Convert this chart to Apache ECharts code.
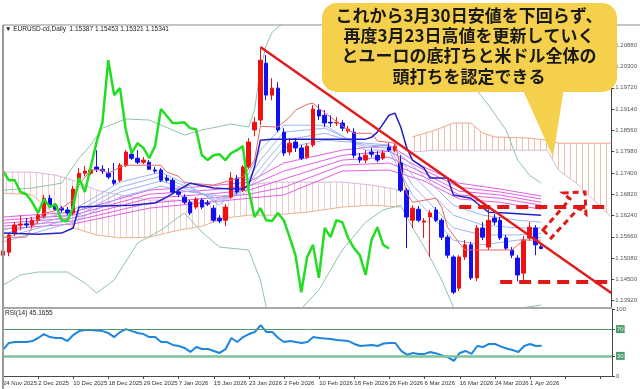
<!DOCTYPE html>
<html><head><meta charset="utf-8">
<script src="https://cdn.jsdelivr.net/npm/echarts@6/dist/echarts.min.js"></script>
<style>html,body{margin:0;padding:0;background:#fff}#c{width:640px;height:389px}</style>
</head><body><div id="c"></div>
<script>
const dates = ['24 Nov 2025','25 Nov 2025','26 Nov 2025','27 Nov 2025','28 Nov 2025',
'1 Dec 2025','2 Dec 2025','3 Dec 2025','4 Dec 2025','5 Dec 2025','8 Dec 2025','9 Dec 2025','10 Dec 2025','11 Dec 2025','12 Dec 2025',
'15 Dec 2025','16 Dec 2025','17 Dec 2025','18 Dec 2025','19 Dec 2025','22 Dec 2025','23 Dec 2025','24 Dec 2025','26 Dec 2025',
'29 Dec 2025','30 Dec 2025','31 Dec 2025','2 Jan 2026','5 Jan 2026','6 Jan 2026','7 Jan 2026','8 Jan 2026','9 Jan 2026',
'12 Jan 2026','13 Jan 2026','14 Jan 2026','15 Jan 2026','16 Jan 2026','19 Jan 2026','20 Jan 2026','21 Jan 2026','22 Jan 2026','23 Jan 2026',
'26 Jan 2026','27 Jan 2026','28 Jan 2026','29 Jan 2026','30 Jan 2026','2 Feb 2026','3 Feb 2026','4 Feb 2026','5 Feb 2026','6 Feb 2026',
'9 Feb 2026','10 Feb 2026','11 Feb 2026','12 Feb 2026','13 Feb 2026','16 Feb 2026','17 Feb 2026','18 Feb 2026','19 Feb 2026','20 Feb 2026',
'23 Feb 2026','24 Feb 2026','25 Feb 2026','26 Feb 2026','27 Feb 2026','2 Mar 2026','3 Mar 2026','4 Mar 2026','5 Mar 2026','6 Mar 2026',
'9 Mar 2026','10 Mar 2026','11 Mar 2026','12 Mar 2026','13 Mar 2026','16 Mar 2026','17 Mar 2026','18 Mar 2026','19 Mar 2026','20 Mar 2026',
'23 Mar 2026','24 Mar 2026','25 Mar 2026','26 Mar 2026','27 Mar 2026','30 Mar 2026','31 Mar 2026','1 Apr 2026','2 Apr 2026','3 Apr 2026'];
const futureSlots = ['','','','','','','','','','','',''];

const opens = [1.1516,1.1524,1.1576,1.1598,1.1601,1.1598,1.1611,1.1622,1.1671,1.1650,
1.1644,1.1639,1.1631,1.1715,1.1739,1.1739,1.1756,1.1750,1.1739,1.1720,
1.1720,1.1761,1.1791,1.1780,1.1769,1.1769,1.1748,1.1748,1.1726,1.1720,
1.1688,1.1674,1.1660,1.1647,1.1666,1.1658,1.1644,1.1617,1.1611,1.1674,
1.1726,1.1693,1.1756,1.1857,1.1884,1.2039,1.1952,1.1971,1.1851,1.1797,
1.1824,1.1808,1.1783,1.1816,1.1911,1.1897,1.1878,1.1876,1.1876,1.1854,
1.1851,1.1783,1.1775,1.1797,1.1788,1.1780,1.1810,1.1802,1.1767,1.1693,
1.1611,1.1641,1.1606,1.1620,1.1639,1.1611,1.1565,1.1511,1.1426,1.1511,
1.1544,1.1454,1.1590,1.1538,1.1617,1.1611,1.1563,1.1530,1.1508,1.1467,
1.1563,1.1590,1.15387];
const closes = [1.1527,1.1571,1.1598,1.1601,1.1598,1.1611,1.1625,1.1671,1.1652,1.1641,
1.1639,1.1631,1.1696,1.1739,1.1745,1.1748,1.1750,1.1745,1.1729,1.1712,
1.1761,1.1797,1.1780,1.1769,1.1775,1.1750,1.1745,1.1720,1.1720,1.1688,
1.1682,1.1660,1.1631,1.1669,1.1647,1.1655,1.1611,1.1609,1.1647,1.1726,
1.1688,1.1756,1.1824,1.1878,1.2047,1.1952,1.1971,1.1857,1.1794,1.1821,
1.1808,1.1780,1.1813,1.1914,1.1895,1.1876,1.1876,1.1878,1.1862,1.1859,
1.1788,1.1775,1.1788,1.1791,1.1775,1.1794,1.1802,1.1813,1.1693,1.1620,
1.1644,1.1611,1.1609,1.1631,1.1611,1.1565,1.1516,1.1415,1.1511,1.1544,
1.1454,1.1590,1.1565,1.1611,1.1606,1.1563,1.1535,1.1516,1.1462,1.1557,
1.1592,1.1544,1.15341];
const lows = [1.1508,1.1513,1.1568,1.1584,1.1590,1.1590,1.1603,1.1617,1.1644,1.1636,
1.1633,1.1625,1.1625,1.1707,1.1731,1.1734,1.1742,1.1737,1.1723,1.1707,
1.1715,1.1756,1.1775,1.1764,1.1764,1.1748,1.1739,1.1715,1.1715,1.1682,
1.1674,1.1655,1.1625,1.1641,1.1641,1.1650,1.1606,1.1603,1.1595,1.1669,
1.1682,1.1688,1.1750,1.1840,1.1870,1.1938,1.1938,1.1851,1.1786,1.1788,
1.1797,1.1775,1.1778,1.1810,1.1884,1.1865,1.1865,1.1868,1.1854,1.1848,
1.1780,1.1767,1.1767,1.1783,1.1769,1.1775,1.1797,1.1797,1.1688,1.1535,
1.1590,1.1606,1.1563,1.1511,1.1606,1.1557,1.1508,1.1410,1.1418,1.1503,
1.1448,1.1445,1.1557,1.1530,1.1598,1.1557,1.1530,1.1508,1.1445,1.1448,
1.1555,1.1516,1.15321];
const highs = [1.1535,1.1576,1.1606,1.1625,1.1617,1.1620,1.1633,1.1680,1.1680,1.1658,
1.1650,1.1647,1.1704,1.1753,1.1759,1.1761,1.1802,1.1761,1.1753,1.1767,
1.1767,1.1802,1.1802,1.1802,1.1783,1.1775,1.1756,1.1753,1.1734,1.1726,
1.1693,1.1682,1.1666,1.1674,1.1671,1.1666,1.1652,1.1625,1.1655,1.1742,
1.1734,1.1761,1.1835,1.1892,1.2080,1.2061,1.1998,1.1987,1.1862,1.1835,
1.1835,1.1816,1.1821,1.1925,1.1927,1.1911,1.1897,1.1892,1.1884,1.1868,
1.1862,1.1794,1.1802,1.1808,1.1799,1.1802,1.1821,1.1821,1.1788,1.1699,
1.1652,1.1650,1.1617,1.1639,1.1647,1.1617,1.1571,1.1516,1.1516,1.1557,
1.1552,1.1598,1.1606,1.1647,1.1628,1.1620,1.1571,1.1538,1.1516,1.1568,
1.1606,1.1598,1.15453];

const rsi = [38.9,49.3,50.7,50.7,50.7,52.2,56.7,62.6,58.1,56.7,
56.7,52.2,61.1,67.0,68.5,68.5,67.8,67.0,64.1,58.1,
65.6,70.0,67.0,64.1,62.6,58.1,58.1,50.7,50.7,46.3,
44.8,41.9,35.9,43.3,40.4,40.4,37.4,34.4,40.0,56.7,
50.7,58.1,62.6,65.6,75.9,65.6,65.6,56.7,50.7,52.2,
50.7,49.3,50.7,58.1,56.7,55.9,55.2,53.7,53.0,52.2,
47.8,44.8,45.6,46.3,44.8,48.5,49.3,49.3,37.4,31.5,
34.4,33.0,33.0,35.9,33.7,30.7,27.8,22.6,34.4,37.4,
33.0,44.8,43.3,47.8,47.8,44.1,41.1,38.9,35.9,44.8,
47.8,44.8,45.17];

const priceTicks = [1.1392,1.1450,1.1508,1.1566,1.1624,1.1682,1.1740,1.1798,1.1856,1.1914,1.1972,1.2030,1.2088];
const rsiTicks = [0,30,70,100];

const kijun = [[0,1.1576],[6,1.1573],[10,1.1576],[12,1.1590],[13,1.1647],[17,1.1650],[22,1.1652],[26,1.1658],[28,1.1674],[32,1.1712],[36,1.1699],[39,1.1696],[41,1.1696],[42,1.1707],[43,1.1756],[44,1.1829],[46,1.1832],[62,1.1832],[63,1.1837],[64,1.1851],[66,1.1897],[67,1.1903],[68,1.1865],[69,1.1810],[70,1.1775],[72,1.1753],[73,1.1726],[76,1.1726],[77,1.1680],[80,1.1671],[81,1.1658],[83,1.1633],[86,1.1631],[92,1.1625]];
const tenkan = [[0,1.1565],[4,1.1565],[5,1.1592],[7,1.1631],[8,1.1633],[10,1.1644],[12,1.1666],[13,1.1707],[15,1.1748],[17,1.1748],[18,1.1739],[20,1.1756],[21,1.1761],[27,1.1761],[28,1.1742],[30,1.1731],[31,1.1715],[32,1.1712],[36,1.1707],[39,1.1720],[41,1.1729],[43,1.1775],[44,1.1867],[47,1.1865],[49,1.1892],[50,1.1911],[52,1.1927],[53,1.1930],[54,1.1916],[59,1.1857],[60,1.1848],[63,1.1848],[64,1.1827],[67,1.1821],[69,1.1685],[70,1.1660],[74,1.1671],[75,1.1647],[76,1.1592],[78,1.1549],[79,1.1530],[87,1.1530],[89,1.1557],[92,1.1557]];

const cloudPastIdx = [0,5,9,12,16,20,25,30,34,38,42,46,52,58,63,68];
const cloudPastTop = [1.1742,1.1742,1.1734,1.1720,1.1693,1.1680,1.1666,1.1666,1.1658,1.1671,1.1707,1.1715,1.1715,1.1715,1.1707,1.1693];
const cloudPastBot = [1.1685,1.1680,1.1625,1.1590,1.1571,1.1563,1.1565,1.1584,1.1595,1.1617,1.1625,1.1625,1.1633,1.1647,1.1652,1.1647];
const cloudFutIdx = [70,74,77,80,82,84,90,93,95,98,101,104];
const cloudFutTop = [1.1838,1.1857,1.1876,1.1876,1.1849,1.1838,1.1835,1.1829,1.1821,1.1821,1.1821,1.1821];
const cloudFutBot = [1.1797,1.1802,1.1802,1.1802,1.1802,1.1802,1.1802,1.1802,1.1748,1.1712,1.1666,1.1620];

const gmmaLongIdx = [0,12,25,35,42,48,58,66,72,78,85,92];
const gmmaLong1 = [1.1620,1.1633,1.1693,1.1704,1.1715,1.1767,1.1802,1.1816,1.1756,1.1712,1.1696,1.1677];
const gmmaLong2 = [1.1611,1.1625,1.1682,1.1693,1.1704,1.1745,1.1788,1.1799,1.1748,1.1701,1.1688,1.1669];
const gmmaLong3 = [1.1603,1.1617,1.1671,1.1682,1.1693,1.1723,1.1775,1.1783,1.1739,1.1690,1.1680,1.1660];
const gmmaLong4 = [1.1595,1.1609,1.1658,1.1671,1.1682,1.1701,1.1761,1.1767,1.1729,1.1680,1.1671,1.1652];
const gmmaLong5 = [1.1587,1.1601,1.1644,1.1660,1.1671,1.1680,1.1745,1.1748,1.1718,1.1669,1.1660,1.1641];
const gmmaShortIdx = [0,12,20,27,32,37,41,44,48,55,62,66,70,77,82,88,92];
const gmmaShort1 = [1.1584,1.1639,1.1715,1.1742,1.1704,1.1652,1.1707,1.1802,1.1870,1.1870,1.1802,1.1802,1.1680,1.1557,1.1544,1.1557,1.1565];
const gmmaShort2 = [1.1573,1.1628,1.1701,1.1731,1.1699,1.1660,1.1699,1.1775,1.1851,1.1862,1.1810,1.1808,1.1707,1.1590,1.1571,1.1571,1.1576];
const gmmaShort3 = [1.1563,1.1617,1.1688,1.1718,1.1693,1.1669,1.1690,1.1753,1.1829,1.1848,1.1816,1.1813,1.1734,1.1625,1.1598,1.1590,1.1590];
const gmmaShort4 = [1.1552,1.1606,1.1674,1.1704,1.1688,1.1677,1.1682,1.1734,1.1808,1.1829,1.1821,1.1816,1.1761,1.1652,1.1625,1.1611,1.1606];

const bbUpper = [[0,1.1693],[5,1.1699],[10,1.1712],[13,1.1780],[15,1.1816],[17,1.1862],[21,1.1887],[25,1.1884],[29,1.1857],[31,1.1843],[34,1.1857],[39,1.1873],[42,1.1865],[43,1.1911],[44,1.2020],[45,1.2088],[46,1.2123],[48,1.2151],null,[81,1.1965],[83,1.1925],[86,1.1857],[88,1.1775],[90,1.1734],[92,1.1712]];
const bbLower = [[0,1.1434],[3,1.1462],[6,1.1470],[11,1.1470],[14,1.1440],[16,1.1413],[19,1.1448],[23,1.1549],[27,1.1584],[31,1.1631],[34,1.1579],[37,1.1538],[42,1.1530],[44,1.1448],[45,1.1375],[46,1.1339],[50,1.1353],[54,1.1421],[58,1.1530],[62,1.1606],[65,1.1639],[68,1.1652],[70,1.1592],[73,1.1511],[75,1.1448],[77,1.1375],[80,1.1345],[86,1.1366],[92,1.1380]];

const trendLine = [[44,1.2083],[104,1.1413]];
const resistLine = [[78,1.1647],[104,1.1647]];
const supportLine = [[85,1.1443],[104,1.1443]];
const lastPrice = 1.15341;

const categories = dates.concat(futureSlots);
const candles = opens.map((o,k)=>[o, closes[k], lows[k], highs[k]]);
const chikou = closes.slice(26).map((c,k)=>[k,c]);
const pairs = (idx, vals) => idx.map((i,k)=>[i, vals[k]]);

function hatch(color){
  const c=document.createElement('canvas'); c.width=6; c.height=4;
  const g=c.getContext('2d'); g.fillStyle=color; g.fillRect(0,0,1,4);
  return {image:c, repeat:'repeat'};
}
function cloudSeries(idx, top, bot, color, edgeTop, edgeBot){
  return {
    type:'custom', xAxisIndex:0, yAxisIndex:0, z:1, silent:true, clip:true,
    data:[[idx[0], top[0]]],
    renderItem:(params, api)=>{
      const t = idx.map((i,k)=>api.coord([i, top[k]]));
      const b = idx.map((i,k)=>api.coord([i, bot[k]]));
      return {type:'group', children:[
        {type:'polygon', shape:{points:t.concat(b.slice().reverse())}, style:{fill:hatch(color)}},
        {type:'polyline', shape:{points:t}, style:{stroke:edgeTop, lineWidth:1, fill:null}},
        {type:'polyline', shape:{points:b}, style:{stroke:edgeBot, lineWidth:1, fill:null}}
      ]};
    }
  };
}
const thin = (data, color, w, z) => ({type:'line', xAxisIndex:0, yAxisIndex:0, data, symbol:'none', silent:true, z:z||2,
  lineStyle:{color, width:w}, connectNulls:false});

const chart = echarts.init(document.getElementById('c'), null, {renderer:'canvas'});
const F = 'Liberation Sans, DejaVu Sans, sans-serif';
chart.setOption({
  animation:false,
  backgroundColor:'#ffffff',
  grid:[{left:3, top:25, width:609, height:283}, {left:3, top:309, width:609, height:67}],
  xAxis:[
    {type:'category', gridIndex:0, data:categories, boundaryGap:false, axisLine:{show:false}, axisTick:{show:false}, axisLabel:{show:false}, splitLine:{show:false}},
    {type:'category', gridIndex:1, data:categories, boundaryGap:false,
      axisLine:{show:true, lineStyle:{color:'#4a4a4a', width:1}},
      axisTick:{show:true, interval:5, length:3, lineStyle:{color:'#4a4a4a'}},
      axisLabel:{interval:5, showMinLabel:true, hideOverlap:false, align:'left', fontSize:6, color:'#333', margin:4, fontFamily:F}, splitLine:{show:false}}
  ],
  yAxis:[
    {type:'value', gridIndex:0, position:'right', min:1.1372, max:1.2143, scale:true, splitLine:{show:false},
      axisLine:{show:true, lineStyle:{color:'#444'}},
      axisTick:{show:true, customValues:priceTicks, length:3, lineStyle:{color:'#444'}},
      axisLabel:{customValues:priceTicks, formatter:v=>v.toFixed(5), fontSize:6, color:'#555', margin:4, fontFamily:F}},
    {type:'value', gridIndex:1, position:'right', min:0, max:100, splitLine:{show:false},
      axisLine:{show:true, lineStyle:{color:'#444'}},
      axisTick:{show:true, customValues:rsiTicks, length:3, lineStyle:{color:'#444'}},
      axisLabel:{customValues:rsiTicks, fontSize:6, color:'#555', margin:4, fontFamily:F,
        formatter:v=>(v===30||v===70)?'{b|'+v+'}':String(v),
        rich:{b:{backgroundColor:'#4f9c6e', color:'#e9f6ee', fontSize:6, padding:[1,1], fontFamily:F}}}}
  ],
  series:[
    cloudSeries(cloudPastIdx, cloudPastTop, cloudPastBot, '#efcccc', '#dcb7dc', '#e9b393'),
    cloudSeries(cloudFutIdx, cloudFutTop, cloudFutBot, '#f3bea6', '#eba88a', '#dcb7dc'),
    thin(bbUpper, '#8fc3a5', 1, 2),
    thin(bbLower, '#8fc3a5', 1, 2),
    thin(pairs(gmmaLongIdx,gmmaLong1), '#e35ee3', 1, 2),
    thin(pairs(gmmaLongIdx,gmmaLong2), '#e35ee3', 1, 2),
    thin(pairs(gmmaLongIdx,gmmaLong3), '#e35ee3', 1, 2),
    thin(pairs(gmmaLongIdx,gmmaLong4), '#e35ee3', 1, 2),
    thin(pairs(gmmaLongIdx,gmmaLong5), '#e35ee3', 1, 2),
    thin(pairs(gmmaShortIdx,gmmaShort1), '#9db4f2', 1, 2),
    thin(pairs(gmmaShortIdx,gmmaShort2), '#9db4f2', 1, 2),
    thin(pairs(gmmaShortIdx,gmmaShort3), '#9db4f2', 1, 2),
    thin(pairs(gmmaShortIdx,gmmaShort4), '#9db4f2', 1, 2),
    {type:'candlestick', xAxisIndex:0, yAxisIndex:0, data:candles, barWidth:4, z:3, silent:true,
      itemStyle:{color:'#f01010', color0:'#1010f0', borderColor:'#f01010', borderColor0:'#1010f0', borderWidth:1},
      markLine:{silent:true, symbol:'none', animation:false, data:[
        [{yAxis:lastPrice, x:3, lineStyle:{color:'#c8c8c8', width:1, type:'solid'}, label:{show:true, position:'end', formatter:'1.15341', backgroundColor:'#000', color:'#fff', fontSize:6, padding:[1,2], distance:1, fontFamily:F}}, {yAxis:lastPrice}],
        [{coord:trendLine[0], lineStyle:{color:'#e01c1c', width:2.5, type:'solid'}, label:{show:false}}, {coord:trendLine[1]}],
        [{coord:resistLine[0], lineStyle:{color:'#e01818', width:4, type:[12,7]}, label:{show:false}}, {coord:resistLine[1]}],
        [{coord:supportLine[0], lineStyle:{color:'#e01818', width:4, type:[12,7]}, label:{show:false}}, {coord:supportLine[1]}]
      ]}},
    thin(tenkan, '#e26a6a', 1, 4),
    thin(kijun, '#2222c4', 1.5, 4),
    thin(chikou, '#22dd22', 2.5, 4),
    {type:'line', xAxisIndex:1, yAxisIndex:1, data:rsi, symbol:'none', silent:true, z:3, lineStyle:{color:'#1f86e0', width:2},
      markLine:{silent:true, symbol:'none', label:{show:false}, animation:false, data:[
        {yAxis:70, lineStyle:{color:'#4c9a6c', width:1, type:'solid'}},
        {yAxis:30, lineStyle:{color:'#7fc39c', width:2.5, type:'solid'}}]}}
  ],
  graphic:[
    {type:'line', shape:{x1:3, y1:25, x2:640, y2:25}, style:{stroke:'#8a8a8a', lineWidth:1}, z:50},
    {type:'line', shape:{x1:3, y1:25, x2:3, y2:389}, style:{stroke:'#9a9a9a', lineWidth:2}, z:50},
    {type:'line', shape:{x1:3, y1:308, x2:612, y2:308}, style:{stroke:'#a8a8a8', lineWidth:2}, z:50},
    {type:'text', left:5, top:26, style:{text:'▼ EURUSD-cd,Daily  1.15387 1.15453 1.15321 1.15341', fontSize:6.5, fill:'#222', fontFamily:F}, z:50},
    {type:'text', left:5, top:310, style:{text:'RSI(14) 45.1655', fontSize:6.5, fill:'#222', fontFamily:F}, z:50},
    {type:'polygon', shape:{points:[[543,230],[570,199],[563,193],[585,192],[586,214],[579,208],[551,238]]},
      style:{fill:null, stroke:'#e01818', lineWidth:3, lineDash:[6,4]}, z:60},
    {type:'group', z:100, children:[
      {type:'rect', shape:{x:322, y:3, width:295, height:89, r:15}, style:{fill:'#f5d04c'}, z:100},
      {type:'polygon', shape:{points:[[522,88],[564,88],[553,157]]}, style:{fill:'#f5d04c'}, z:100},
      {type:'text', x:469, y:16, style:{text:'これから3月30日安値を下回らず、', fontSize:17, fontWeight:'bold', fill:'#1a1a1a', align:'center', verticalAlign:'middle', fontFamily:'Noto Sans CJK JP'}, z:101},
      {type:'text', x:469, y:36, style:{text:'再度3月23日高値を更新していく', fontSize:17, fontWeight:'bold', fill:'#1a1a1a', align:'center', verticalAlign:'middle', fontFamily:'Noto Sans CJK JP'}, z:101},
      {type:'text', x:469, y:56, style:{text:'とユーロの底打ちと米ドル全体の', fontSize:17, fontWeight:'bold', fill:'#1a1a1a', align:'center', verticalAlign:'middle', fontFamily:'Noto Sans CJK JP'}, z:101},
      {type:'text', x:469, y:77, style:{text:'頭打ちを認定できる', fontSize:17, fontWeight:'bold', fill:'#1a1a1a', align:'center', verticalAlign:'middle', fontFamily:'Noto Sans CJK JP'}, z:101}
    ]}
  ]
});
</script></body></html>
